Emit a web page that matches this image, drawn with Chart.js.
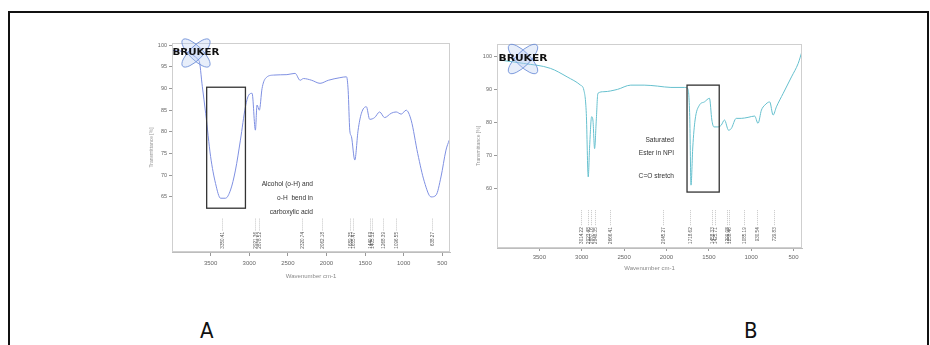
<!DOCTYPE html>
<html>
<head>
<meta charset="utf-8">
<script src="https://cdn.jsdelivr.net/npm/chart.js@4.4.1/dist/chart.umd.min.js"></script>
<style>
  html, body { margin: 0; padding: 0; background: #fff; width: 930px; height: 345px; overflow: hidden; }
  #frame { position: absolute; left: 8px; top: 11px; width: 917px; height: 400px; border: 2px solid #111; }
  .cv { position: absolute; }
  .panel-label { position: absolute; font-family: "Liberation Sans Narrow", "DejaVu Sans Condensed", "Liberation Sans", sans-serif;
                 font-size: 22px; line-height: 1; color: #111; }
</style>
</head>
<body>
<div id="frame"></div>
<canvas id="chartA" class="cv" width="322" height="260" style="left:138px;top:30px"></canvas>
<canvas id="chartB" class="cv" width="340" height="250" style="left:470px;top:30px"></canvas>
<div class="panel-label" style="left:200px;top:320px">A</div>
<div class="panel-label" style="left:744px;top:320px">B</div>

<script>
// ---- Spectrum A: wavenumber (cm-1) and transmittance (%) ----
const wavenumbersA = [3990, 3651, 3607, 3564, 3500, 3436, 3371, 3307, 3242, 3178, 3114, 3049, 3006, 2963,
  2920, 2899, 2869, 2834, 2791, 2684, 2512, 2406, 2341, 2298, 2191, 2083, 1976, 1826, 1740, 1719, 1698,
  1676, 1633, 1590, 1547, 1483, 1440, 1376, 1311, 1247, 1161, 1097, 1032, 968, 903, 818, 732, 645, 581,
  517, 452, 410];
const transmittanceA = [98.8, 96.5, 90.4, 84.3, 74.3, 68.1, 64.7, 64.7, 66.6, 71.2, 78.1, 85.8, 88.5, 88.9,
  80.4, 86.2, 85.0, 90.0, 92.3, 93.1, 93.2, 93.5, 91.9, 92.3, 91.9, 91.2, 91.9, 92.5, 92.7, 89.6, 80.4,
  78.9, 73.5, 80.4, 84.3, 85.8, 82.9, 83.3, 84.6, 83.3, 84.3, 84.6, 84.1, 85.0, 82.7, 75.0, 68.5, 65.0, 65.4,
  69.6, 75.8, 78.1];
const peaksA = [3350.41, 2921.36, 2878.52, 2320.74, 2062.18, 1689.25, 1655.47, 1440.63, 1405.12, 1268.39, 1096.55, 638.27];
const yTicksA = [100, 95, 90, 85, 80, 75, 70, 65];
const noteA = ["Alcohol (o-H) and", "o-H  bend in", "carboxylic acid"];

// ---- Spectrum B ----
const wavenumbersB = [3962, 3686, 3370, 3172, 3014, 2975, 2946, 2923, 2907, 2883, 2868, 2848, 2828, 2809,
  2738, 2579, 2421, 2263, 2104, 1947, 1789, 1749, 1725, 1710, 1689, 1662, 1611, 1552, 1492, 1464, 1440,
  1393, 1354, 1315, 1267, 1235, 1176, 1117, 1037, 959, 919, 879, 840, 781, 741, 702, 622, 524, 445, 402];
const transmittanceB = [99.0, 98.0, 96.5, 93.9, 91.4, 89.9, 82.8, 63.5, 72.6, 81.8, 80.8, 72.1, 80.8, 88.9,
  89.4, 90.1, 91.4, 91.4, 91.1, 90.7, 90.7, 90.4, 81.8, 61.0, 72.6, 80.8, 85.3, 86.3, 87.4, 80.8, 78.7,
  78.7, 79.2, 80.8, 77.7, 78.2, 81.3, 81.3, 81.6, 82.0, 79.8, 83.8, 85.3, 86.3, 82.3, 84.8, 88.9, 93.9,
  98.0, 101.5];
const peaksB = [3014.22, 2923.48, 2887.16, 2848.35, 2666.41, 2045.27, 1718.62, 1458.33, 1425.71, 1290.08,
  1258.46, 1085.19, 930.54, 729.83];
const yTicksB = [100, 90, 80, 70, 60];
const noteB = ["Saturated", "Ester in NPI", "C=O stretch"];

// shared x ticks (wavenumber)
const xTicks = [3500, 3000, 2500, 2000, 1500, 1000, 500];

Chart.defaults.font.family = '"Liberation Sans", Arial, sans-serif';

// Bruker badge: two crossed ellipses with the word mark on top
function drawLogo(ctx, cx, cy, w) {
  ctx.save();
  ctx.translate(cx, cy);
  ctx.fillStyle = 'rgba(175,200,240,0.30)';
  ctx.strokeStyle = '#5f84d4';
  ctx.lineWidth = 0.8;
  for (const ang of [Math.PI / 4, -Math.PI / 4]) {
    ctx.beginPath();
    ctx.ellipse(0, 0, w * 0.40, w * 0.14, ang, 0, Math.PI * 2);
    ctx.fill();
    ctx.stroke();
  }
  ctx.font = 'bold 9px "DejaVu Sans"';
  const tw = ctx.measureText('BRUKER').width;
  ctx.scale(w / tw, 1);
  ctx.fillStyle = '#111';
  ctx.textAlign = 'center';
  ctx.textBaseline = 'middle';
  ctx.fillText('BRUKER', 0, 0);
  ctx.restore();
}

// plot frame, peak markers, highlight box, note and badge
const spectrumDecor = {
  id: 'spectrumDecor',
  afterDatasetsDraw(chart, args, o) {
    const { ctx, chartArea: a, scales: { x, y } } = chart;
    ctx.save();
    ctx.strokeStyle = '#cfcfcf';
    ctx.lineWidth = 1;
    ctx.strokeRect(a.left + 0.5, a.top + 0.5, a.right - a.left - 1, a.bottom - a.top - 1);

    // peak pick markers
    const yl = y.getPixelForValue(o.peakLineTop);
    const yt = y.getPixelForValue(o.peakTextTop);
    ctx.font = '4.6px "Liberation Sans"';
    for (const p of o.peaks) {
      const px = Math.round(x.getPixelForValue(p)) + 0.5;
      ctx.strokeStyle = '#a0a0a0';
      ctx.lineWidth = 0.6;
      ctx.setLineDash([1, 1]);
      ctx.beginPath();
      ctx.moveTo(px, yl);
      ctx.lineTo(px, yt - 1);
      ctx.stroke();
      ctx.setLineDash([]);
      ctx.save();
      ctx.translate(px, yt);
      ctx.rotate(-Math.PI / 2);
      ctx.fillStyle = '#555';
      ctx.textAlign = 'right';
      ctx.textBaseline = 'middle';
      ctx.fillText(p.toFixed(2), 0, 0);
      ctx.restore();
    }

    // highlight box
    const b = o.box;
    const bx1 = x.getPixelForValue(b.x1), bx2 = x.getPixelForValue(b.x2);
    const by1 = y.getPixelForValue(b.y1), by2 = y.getPixelForValue(b.y2);
    ctx.strokeStyle = '#333';
    ctx.lineWidth = 1.3;
    ctx.strokeRect(bx1, by1, bx2 - bx1, by2 - by1);

    // note text
    ctx.fillStyle = '#333';
    ctx.font = '6.6px "Liberation Sans"';
    ctx.textAlign = 'right';
    ctx.textBaseline = 'middle';
    const nx = x.getPixelForValue(o.note.x);
    o.note.lines.forEach((t, i) => ctx.fillText(t, nx, y.getPixelForValue(o.note.y[i])));

    drawLogo(ctx, a.left + o.logo.dx, a.top + o.logo.dy, o.logo.w);
    ctx.restore();
  }
};

function xyPoints(xs, ys) { return xs.map((v, i) => ({ x: v, y: ys[i] })); }

function makeChart(id, cfg) {
  return new Chart(document.getElementById(id), {
    type: 'line',
    data: {
      datasets: [{
        data: xyPoints(cfg.xs, cfg.ys),
        borderColor: cfg.color,
        borderWidth: 1,
        pointRadius: 0,
        cubicInterpolationMode: 'monotone'
      }]
    },
    options: {
      responsive: false,
      animation: false,
      devicePixelRatio: 1,
      layout: { padding: cfg.padding },
      plugins: { legend: { display: false }, tooltip: { enabled: false }, spectrumDecor: cfg.decor },
      scales: {
        x: {
          type: 'linear', reverse: true, min: 400, max: 4000,
          afterBuildTicks: s => { s.ticks = xTicks.map(v => ({ value: v })); },
          afterFit: s => { s.height = cfg.xAxisH; },
          grid: { drawOnChartArea: false, tickLength: cfg.xTickLen, color: '#999' },
          border: { color: '#bdbdbd' },
          ticks: { font: { size: 6 }, color: '#666', padding: cfg.xTickPad, maxRotation: 0, callback: v => String(v) },
          title: { display: true, text: 'Wavenumber cm-1', font: { size: 6 }, color: '#888', padding: { top: 0, bottom: cfg.xTitlePad } }
        },
        y: {
          min: cfg.yMin, max: cfg.yMax,
          afterBuildTicks: s => { s.ticks = cfg.yTicks.map(v => ({ value: v })); },
          afterFit: s => { s.width = cfg.yAxisW; },
          grid: { drawOnChartArea: false, tickLength: 3, color: '#999' },
          border: { color: '#bdbdbd' },
          ticks: { font: { size: 5.5 }, color: '#666', padding: 2, callback: v => String(v) },
          title: { display: true, text: 'Transmittance [%]', font: { size: 5 }, color: '#999', padding: { top: cfg.yTitlePad, bottom: 0 } }
        }
      }
    },
    plugins: [spectrumDecor]
  });
}

makeChart('chartA', {
  xs: wavenumbersA, ys: transmittanceA, color: '#7f90e2',
  padding: { top: 13, right: 10, left: 0, bottom: 0 },
  xAxisH: 38, xTickLen: 4, xTickPad: 4, xTitlePad: 10,
  yAxisW: 34, yTitlePad: 11, yMin: 52.3, yMax: 100.5, yTicks: yTicksA,
  decor: {
    peaks: peaksA, peakLineTop: 60.0, peakTextTop: 56.9,
    box: { x1: 3551, x2: 3049, y1: 90.3, y2: 62.4 },
    note: { x: 2174, y: [68.0, 64.8, 61.6], lines: noteA },
    logo: { dx: 24, dy: 10, w: 47 }
  }
});

makeChart('chartB', {
  xs: wavenumbersB, ys: transmittanceB, color: '#66c0ce',
  padding: { top: 14, right: 8, left: 0, bottom: 0 },
  xAxisH: 32, xTickLen: 3, xTickPad: 3, xTitlePad: 8,
  yAxisW: 27, yTitlePad: 6, yMin: 41.9, yMax: 103.9, yTicks: yTicksB,
  decor: {
    peaks: peaksB, peakLineTop: 53.4, peakTextTop: 48.2,
    box: { x1: 1757, x2: 1377, y1: 91.4, y2: 58.9 },
    note: { x: 1911, y: [74.7, 70.7, 63.8], lines: noteB },
    logo: { dx: 26, dy: 15, w: 49 }
  }
});
</script>
</body>
</html>
